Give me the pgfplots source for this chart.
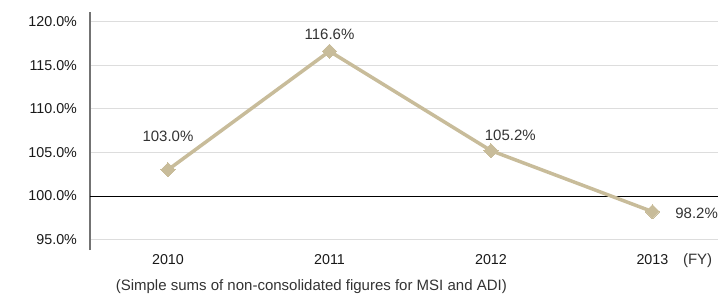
\documentclass[border=0pt]{standalone}
\usepackage{fontspec}
\setmainfont{Liberation Sans}
\usepackage{pgfplots}
\pgfplotsset{compat=1.18}
\definecolor{tan}{HTML}{C8BC9A}
\definecolor{grid}{HTML}{DDDDDD}
\begin{document}
\begin{tikzpicture}
\useasboundingbox (-90pt,-43pt) rectangle (628pt,250pt);
\begin{axis}[
  at={(0,0)}, anchor=south west,
  scale only axis, width=628pt, height=238pt,
  xmin=-0.483, xmax=3.406, ymin=93.8, ymax=121.1,
  axis lines*=left,
  x axis line style={draw=none},
  y axis line style={draw=gray!90!black, line width=1.2pt},
  xtick={0,1,2,3}, xticklabels={2010,2011,2012,2013},
  ytick={95,100,105,110,115,120},
  yticklabel={\pgfmathprintnumber[fixed,fixed zerofill,precision=1]{\tick}\%},
  /pgf/number format/assume math mode=true,
  major tick length=0pt,
  ymajorgrids, grid style={draw=grid, line width=0.9pt},
  extra y ticks={100}, extra y tick labels={},
  extra y tick style={grid style={draw=black, line width=0.8pt}},
  tick label style={font=\fontsize{14.3}{17}\selectfont, text=black!90},
  yticklabel style={xshift=-9.5pt},
  xticklabel style={yshift=-0.5pt},
  clip=false,
]
\addplot[color=tan, line width=3.5pt, mark=square*, mark size=5pt, mark options={rotate=45, line width=0pt, fill=tan}] coordinates {(0,103.0) (1,116.6) (2,105.2) (3,98.2)};
\tikzset{lab/.style={font=\fontsize{15}{18}\selectfont, text=black!80}}
\node[lab] at (axis cs:0,106.85) {103.0\%};
\node[lab] at (axis cs:1,118.55) {116.6\%};
\node[lab] at (axis cs:2.12,107.0) {105.2\%};
\node[lab, anchor=west] at (axis cs:3.12,98.05) {98.2\%};
\node[lab] at (axis cs:3.28,92.6) {(FY)};
\node[lab, anchor=west] at (axis cs:-0.345,89.6) {(Simple sums of non-consolidated figures for MSI and ADI)};
\end{axis}
\end{tikzpicture}
\end{document}
